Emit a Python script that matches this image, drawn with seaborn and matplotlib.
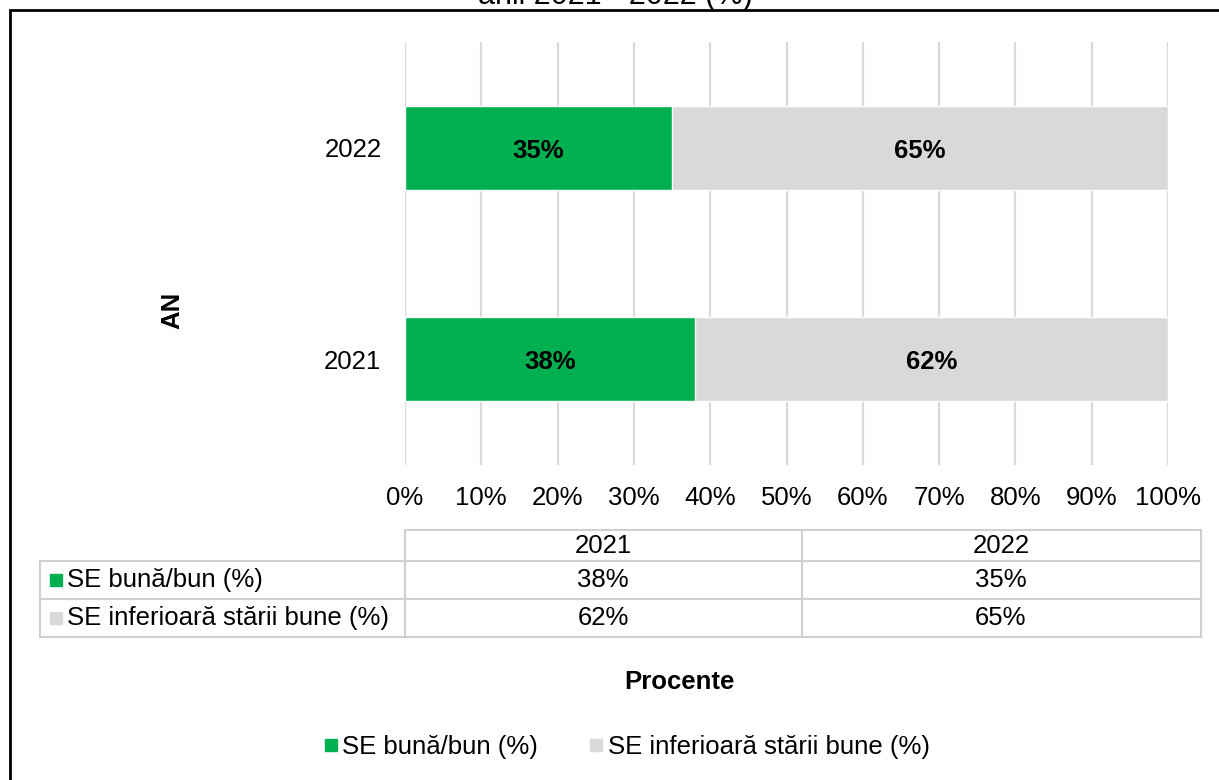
import seaborn as sns
import matplotlib.pyplot as plt
import pandas as pd
from matplotlib.lines import Line2D
from matplotlib.patches import Rectangle

# date
ani = ["2021", "2022"]
ordine = ["2022", "2021"]
se_bun = [38, 35]
se_inferior = [62, 65]
serii = ["SE bună/bun (%)", "SE inferioară stării bune (%)"]
ticks_x = [0, 10, 20, 30, 40, 50, 60, 70, 80, 90, 100]

verde = "#00B050"
gri = "#D9D9D9"
fs = 18.5

sns.set_style("white")
plt.rcParams['font.family'] = ['Liberation Sans', 'DejaVu Sans']
plt.rcParams['font.size'] = fs
plt.rcParams['text.color'] = 'black'
plt.rcParams['xtick.color'] = 'black'
plt.rcParams['ytick.color'] = 'black'

df = pd.DataFrame({"An": ani, "bun": se_bun, "inferior": se_inferior})
df["total"] = df["bun"] + df["inferior"]

W, H = 1219, 780
fig = plt.figure(figsize=(W / 100, H / 100), dpi=100)

def fx(px):
    return px / W

def fy(py):
    return 1 - py / H

# chenar negru
fig.patches.append(Rectangle((fx(10), -0.2), 1.5, fy(10) + 0.2, fill=False,
                             edgecolor="black", lw=2, transform=fig.transFigure))
fig.text(fx(615), fy(4), "anii 2021 - 2022 (%)", ha="center", va="baseline", fontsize=22)

ax = fig.add_axes([fx(405), fy(465), fx(1168) - fx(405), fy(42) - fy(465)])
sns.barplot(data=df, x="total", y="An", order=ordine, color=gri, width=0.395,
            saturation=1, orient="h", ax=ax)
sns.barplot(data=df, x="bun", y="An", order=ordine, color=verde, width=0.395,
            saturation=1, orient="h", ax=ax)

ax.set_xlim(0, 100)
ax.set_xticks(ticks_x)
ax.set_xticklabels([f"{t}%" for t in ticks_x])
ax.grid(axis="x", color=gri, lw=1.6)
ax.set_axisbelow(True)
for s in ax.spines.values():
    s.set_visible(False)
ax.tick_params(axis="x", length=0, pad=15, labelsize=fs)
ax.tick_params(axis="y", length=0, pad=17, labelsize=fs)
ax.set_xlabel("")
ax.set_ylabel("")

for i, an in enumerate(ordine):
    r = df[df["An"] == an].iloc[0]
    ax.text(r["bun"] / 2, i + 0.015, f"{r['bun']}%", ha="center", va="center",
            fontsize=fs, fontweight="bold")
    ax.text(r["bun"] + r["inferior"] / 2, i + 0.015, f"{r['inferior']}%", ha="center",
            va="center", fontsize=fs, fontweight="bold")

fig.text(fx(172), fy(310), "AN", rotation=90, ha="center", va="center",
         fontsize=fs, fontweight="bold")
fig.text(fx(679), fy(682), "Procente", ha="center", va="center",
         fontsize=fs, fontweight="bold")

# tabel de date
tax = fig.add_axes([0, 0, 1, 1])
tax.set_xlim(0, W)
tax.set_ylim(H, 0)
tax.axis("off")
lc = "#D0D0D0"
lw = 1.5
tax.plot([405, 1201], [530, 530], color=lc, lw=lw)
for y in [561, 599, 637]:
    tax.plot([40, 1201], [y, y], color=lc, lw=lw)
tax.plot([40, 40], [561, 637], color=lc, lw=lw)
for x in [405, 802, 1201]:
    tax.plot([x, x], [530, 637], color=lc, lw=lw)

col_c = [603, 1001]
for c, an in zip(col_c, ani):
    tax.text(c, 546, an, ha="center", va="center", fontsize=fs)
randuri = [(serii[0], se_bun, verde, 580), (serii[1], se_inferior, gri, 618)]
for nume, vals, col, y in randuri:
    tax.plot(55.5, y, marker="s", color=col, markersize=9)
    tax.text(67, y, nume, ha="left", va="center", fontsize=fs)
    for c, v in zip(col_c, vals):
        tax.text(c, y, f"{v}%", ha="center", va="center", fontsize=fs)

handles = [Line2D([], [], marker="s", linestyle="", color=verde, markersize=9),
           Line2D([], [], marker="s", linestyle="", color=gri, markersize=9)]
fig.legend(handles, serii, loc="center", bbox_to_anchor=(fx(627), fy(747)),
           ncol=2, frameon=False, handlelength=0.5, handletextpad=0.2,
           columnspacing=2.0, fontsize=fs)

fig.savefig("out.png", dpi=100)
